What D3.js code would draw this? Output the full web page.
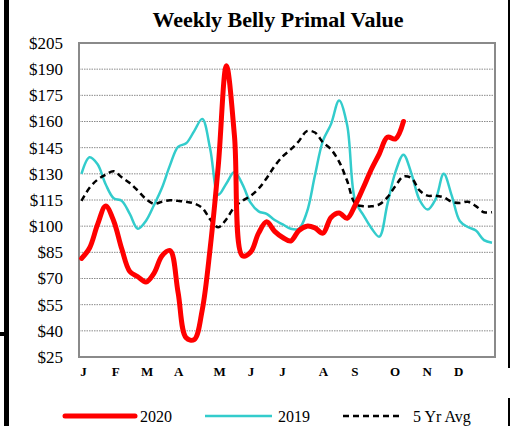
<!DOCTYPE html>
<html><head><meta charset="utf-8">
<script src="https://cdn.jsdelivr.net/npm/d3@7"></script>
<style>html,body{margin:0;padding:0;background:#fff;}svg{display:block;}</style>
</head><body>
<svg id="c" width="510" height="426"></svg>
<script>
const weeks = d3.range(1, 53);
const months = ["J","F","M","A","M","J","J","A","S","O","N","D"];
const monthWeeks = [1.2, 5.2, 9.1, 13, 18.1, 22, 25.9, 31, 34.9, 39.9, 43.9, 47.8];
const yTicks = [25,40,55,70,85,100,115,130,145,160,175,190,205];

const v2020 = [81.5,87.5,101,111.5,103,87,74,71,68,73,83,86,62,36,35,52,88,135,192,152,
  83,85,96,102.5,97,93.5,91.5,97.5,100,99,96,105,107.5,104.5,112,122,132.5,141.5,151,150,160];
const v2019 = [130,139.5,135.5,124,116,114.5,107,98.5,103,112,122,135,145.5,147.5,154.5,161.5,144,118,124.5,131,
  124,113.5,108.5,107,103.5,101,98.5,98.5,108,129,149,158.5,172,158,114.5,106.5,99,94,112.5,131,
  141,130,115,109.5,115.5,130,117.5,103,99.5,97.5,92,90.5];
const vAvg = [114.5,122,126.7,129.5,131.5,128,124.7,120.3,115.6,112.8,114,114.8,114.5,114,113,110.5,103.8,99.4,104,111,
  114.5,117.3,121.5,127.5,134.5,140,144,148.7,154.5,153.7,148,144,137,126,113,111.4,111.4,112.5,116.5,123,
  128.5,127.5,120.5,117.5,117.5,116.5,114,113.3,114,111.5,108,108];

const seriesNames = ["2020","2019","5 Yr Avg"];

const svg = d3.select("#c");
const L = 79, R = 495, T = 43, B = 357;
const x = d3.scaleLinear().domain([1, 52]).range([81.5, 492]);
const y = d3.scaleLinear().domain([25, 205]).range([B, T]);

// outer black frame pieces
svg.append("rect").attr("x",4).attr("y",0).attr("width",5).attr("height",426).attr("fill","#000");
svg.append("rect").attr("x",0).attr("y",332).attr("width",6).attr("height",4).attr("fill","#000");
svg.append("rect").attr("x",508).attr("y",0).attr("width",2).attr("height",368).attr("fill","#000");
svg.append("rect").attr("x",508).attr("y",398).attr("width",2).attr("height",28).attr("fill","#000");

// title
svg.append("text").attr("x",278).attr("y",27).attr("text-anchor","middle")
  .style("font-family","'Liberation Serif','Times New Roman',serif").style("font-weight","bold")
  .style("font-size","22px").text("Weekly Belly Primal Value");

// grid
svg.append("g").selectAll("line").data(yTicks.filter(d => d > 25 && d < 205)).join("line")
  .attr("x1",L).attr("x2",R).attr("y1",d=>y(d)).attr("y2",d=>y(d))
  .attr("stroke","#8a8a8a").attr("stroke-width",1).attr("stroke-dasharray","1.5,1");

// y axis
const ya = svg.append("g").attr("transform",`translate(${L},0)`)
  .call(d3.axisLeft(y).tickValues(yTicks).tickFormat(d=>"$"+d).tickSize(0).tickPadding(16));
ya.select(".domain").remove();
ya.selectAll("text").style("font-family","'Liberation Serif','Times New Roman',serif")
  .style("font-size","17px").attr("fill","#000");

// x axis
const xa = svg.append("g").attr("transform",`translate(0,${B})`)
  .call(d3.axisBottom(x).tickValues(monthWeeks).tickFormat((d,i)=>months[i]).tickSize(0).tickPadding(10));
xa.select(".domain").remove();
xa.selectAll("text").style("font-family","'Liberation Serif','Times New Roman',serif")
  .style("font-size","13px").style("font-weight","bold").attr("fill","#000");

// plot border
svg.append("rect").attr("x",L).attr("y",T).attr("width",R-L).attr("height",B-T)
  .attr("fill","none").attr("stroke","#8a8a8a").attr("stroke-width",2);

const line = d3.line().x((d,i)=>x(i+1)).y(d=>y(d)).curve(d3.curveCatmullRom);

svg.append("path").datum(v2019).attr("d",line).attr("fill","none")
  .attr("stroke","#33CCCC").attr("stroke-width",2.5);
svg.append("path").datum(vAvg).attr("d",line).attr("fill","none")
  .attr("stroke","#000").attr("stroke-width",2.5).attr("stroke-dasharray","6,4");
svg.append("path").datum(v2020).attr("d",line).attr("fill","none")
  .attr("stroke","#FF0000").attr("stroke-width",5).attr("stroke-linecap","round").attr("stroke-linejoin","round");

// legend
const lg = svg.append("g").style("font-family","'Liberation Serif','Times New Roman',serif").style("font-size","16px");
const legendItems = [
  {name: seriesNames[0], x1:65, x2:135, tx:140, stroke:"#FF0000", w:5, dash:null, cap:"round"},
  {name: seriesNames[1], x1:205, x2:272, tx:278, stroke:"#33CCCC", w:2.5, dash:null, cap:"butt"},
  {name: seriesNames[2], x1:343, x2:402, tx:413, stroke:"#000", w:2.5, dash:"6,4", cap:"butt"}
];
legendItems.forEach(it => {
  lg.append("line").attr("x1",it.x1).attr("x2",it.x2).attr("y1",416).attr("y2",416)
    .attr("stroke",it.stroke).attr("stroke-width",it.w).attr("stroke-dasharray",it.dash)
    .attr("stroke-linecap",it.cap);
  lg.append("text").attr("x",it.tx).attr("y",421.5).text(it.name);
});
</script>
</body></html>
